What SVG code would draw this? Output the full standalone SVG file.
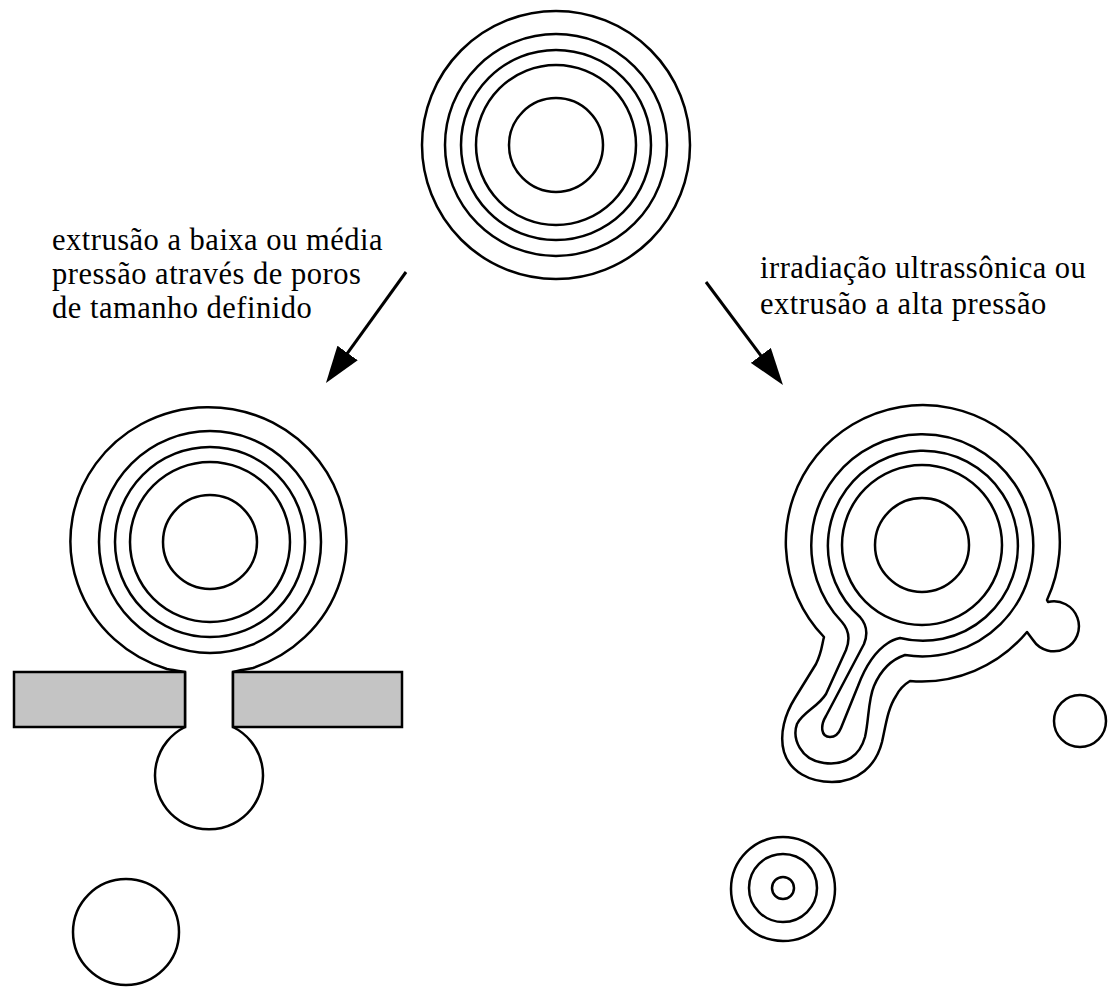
<svg xmlns="http://www.w3.org/2000/svg" width="1108" height="989" viewBox="0 0 1108 989">
  <style>
    .ln { fill: none; stroke: #000; stroke-width: 2.5; stroke-linejoin: round; }
    .wall { fill: #c4c4c4; stroke: #000; stroke-width: 2.5; }
    .lbl { font-family: "Liberation Serif", "Times New Roman", serif; font-size: 30.5px; letter-spacing: 0.5px; fill: #000; }
    .arrow { stroke: #000; stroke-width: 3; fill: none; }
  </style>
  <defs>
    <marker id="head" viewBox="0 0 37 25" refX="7" refY="12.5" markerWidth="37" markerHeight="25" markerUnits="userSpaceOnUse" orient="auto">
      <path d="M0,0 L37,12.5 L0,25 Z" fill="#000"/>
    </marker>
  </defs>

  <rect width="1108" height="989" fill="#fff"/>

  <!-- multilamellar vesicle (starting material) -->
  <g id="vesicle-top" class="ln">
    <circle cx="556" cy="145" r="134"/>
    <circle cx="556" cy="145" r="111"/>
    <circle cx="556" cy="145" r="95"/>
    <circle cx="556" cy="145" r="80"/>
    <circle cx="556" cy="145" r="47"/>
  </g>

  <!-- vesicle squeezed through a pore -->
  <g id="vesicle-extruded" class="ln">
    <path d="M185 727 A54 54 0 1 0 233 727 L233 672 C240 670 247 669 253 668 A138 134 0 1 0 167 669 C173 670 180 671 185 672 Z"/>
    <circle cx="210" cy="542" r="111"/>
    <circle cx="210" cy="542" r="95"/>
    <circle cx="210" cy="542" r="80"/>
    <circle cx="210" cy="542" r="47"/>
  </g>

  <!-- filter membrane -->
  <g id="membrane">
    <rect class="wall" x="14" y="672" width="171" height="55"/>
    <rect class="wall" x="233" y="672" width="169" height="55"/>
  </g>

  <!-- unilamellar vesicle released from the pore -->
  <g id="vesicle-small-left" class="ln">
    <circle cx="126" cy="932" r="53"/>
  </g>

  <!-- vesicle deformed by sonication -->
  <g id="vesicle-deformed" class="ln">
    <path d="M910 681 A137 137 0 0 0 1027 632 L1033 640 A25 25 0 1 0 1048 602 L1047 600 A137 137 0 1 0 824 637 C822 644 822 652 816 664 L795 698 C785 714 779 734 784 752 C790 772 810 782 832 782 C858 782 876 766 882 742 C886 724 888 708 896 696 C900 688 905 684 910 681 Z"/>
    <path d="M905 655 A111 111 0 1 0 842 622 C849 630 850 640 846 650 L826 694 C818 707 803 712 797 724 C792 738 800 760 824 763 C846 766 860 755 865 737 C869 720 868 700 874 686 C880 672 890 660 905 655 Z"/>
    <path d="M900 638 A95 95 0 1 0 860 617 C867 625 868 634 864 644 L826 716 C820 726 821 737 830 737 C836 737 839 733 841 728 L858 686 C864 670 874 652 888 643 C892 640 896 639 900 638 Z"/>
    <circle cx="922" cy="545" r="80"/>
    <circle cx="922" cy="545" r="47"/>
  </g>

  <!-- fragments produced by sonication -->
  <g id="vesicle-small-right" class="ln">
    <circle cx="1080" cy="721" r="26"/>
  </g>
  <g id="vesicle-oligo" class="ln">
    <circle cx="783" cy="889" r="52"/>
    <circle cx="783" cy="888" r="34"/>
    <circle cx="783" cy="888" r="11"/>
  </g>

  <!-- process arrows -->
  <g id="connectors">
    <line class="arrow" x1="406" y1="272" x2="343.5" y2="358.7" marker-end="url(#head)"/>
    <line class="arrow" x1="706" y1="282" x2="765" y2="361" marker-end="url(#head)"/>
  </g>

  <!-- labels -->
  <g id="label-left" class="lbl">
    <text x="52" y="250">extrusão a baixa ou média</text>
    <text x="52" y="284">pressão através de poros</text>
    <text x="52" y="318">de tamanho definido</text>
  </g>
  <g id="label-right" class="lbl">
    <text x="760" y="278">irradiação ultrassônica ou</text>
    <text x="760" y="314">extrusão a alta pressão</text>
  </g>
</svg>
